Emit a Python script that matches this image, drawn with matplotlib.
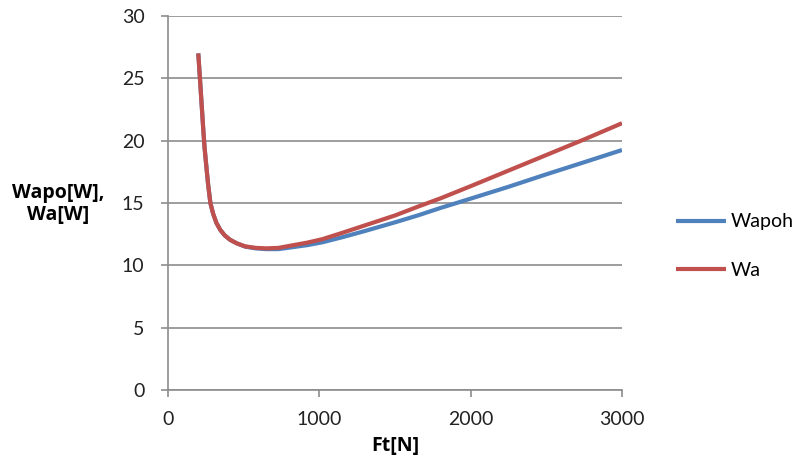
import matplotlib.pyplot as plt

# Wapoh / Wa versus tangential force Ft
ft = [200, 205, 211, 218, 225, 233, 242, 252, 265, 280, 298, 320, 345, 375,
      410, 455, 510, 580, 650, 730, 820, 920, 1020, 1150, 1300, 1500, 1650,
      1800, 2000, 2250, 2500, 2750, 3000]
w_apoh = [27.0, 26.1, 25.0, 23.7, 22.4, 20.9, 19.4, 18.1, 16.5, 15.0, 14.15,
          13.4, 12.85, 12.4, 12.05, 11.76, 11.5, 11.36, 11.3, 11.3, 11.45,
          11.62, 11.85, 12.25, 12.75, 13.45, 14.0, 14.6, 15.35, 16.3, 17.3,
          18.27, 19.25]
w_a = [27.0, 26.1, 25.0, 23.7, 22.4, 20.9, 19.4, 18.1, 16.5, 15.0, 14.15,
       13.4, 12.85, 12.4, 12.05, 11.76, 11.52, 11.4, 11.36, 11.4, 11.6,
       11.82, 12.1, 12.6, 13.2, 14.0, 14.7, 15.37, 16.35, 17.6, 18.85,
       20.1, 21.4]

blue = '#4F81BD'
red = '#C0504D'
grid_c = '#8C8C8C'

plt.rcParams['font.family'] = ['Lato', 'DejaVu Sans']

fig = plt.figure(figsize=(8.01, 4.70), dpi=100)
ax = fig.add_axes([168 / 801, 80 / 470, 454 / 801, 374 / 470])

ax.plot(ft, w_apoh, color=blue, lw=3, label='Wapoh', solid_capstyle='butt')
ax.plot(ft, w_a, color=red, lw=3, label='Wa', solid_capstyle='butt')

ax.set_xlim(0, 3000)
ax.set_ylim(0, 30)
ax.set_xticks([0, 1000, 2000, 3000])
ax.set_yticks(range(0, 31, 5))
ax.yaxis.grid(True, color=grid_c, lw=1.2)
ax.set_axisbelow(True)

for s in ['top', 'right']:
    ax.spines[s].set_visible(False)
for s in ['left', 'bottom']:
    ax.spines[s].set_color(grid_c)
    ax.spines[s].set_linewidth(1.2)

ax.tick_params(axis='both', colors=grid_c, length=5, width=1.2, labelsize=14,
               labelcolor='#222222')
ax.tick_params(axis='x', pad=10)
ax.tick_params(axis='y', pad=12)

lab_font = ['Open Sans', 'DejaVu Sans']
ax.set_xlabel('Ft[N]', fontsize=14, fontweight='bold', labelpad=6,
              family=lab_font)
fig.text(58 / 801, 1 - 204 / 470, 'Wapo[W],\nWa[W]', fontsize=14,
         fontweight='bold', ha='center', va='center', linespacing=1.1,
         family=lab_font)

ax.legend(loc='center left', bbox_to_anchor=(1.08, 0.385), frameon=False,
          fontsize=14, handlelength=2.6, handletextpad=0.2, labelspacing=1.6)

plt.savefig('out.png', dpi=100)
